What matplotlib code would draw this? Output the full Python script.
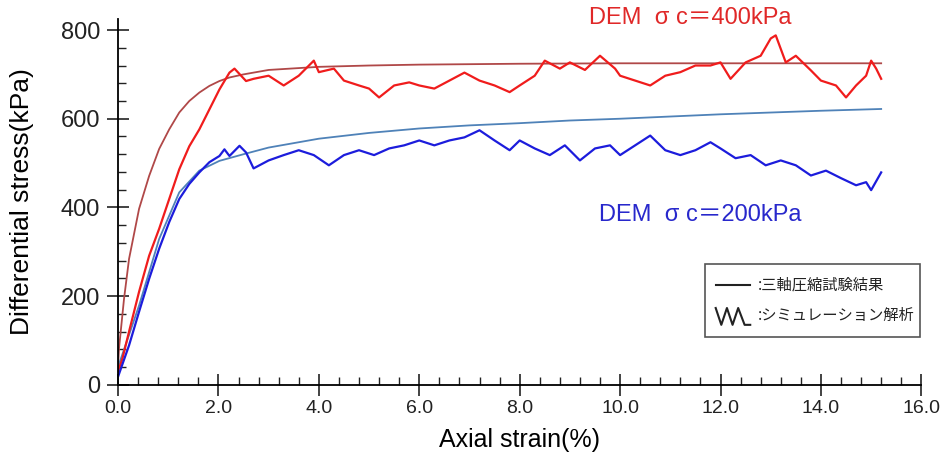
import matplotlib
matplotlib.use('Agg')
import matplotlib.pyplot as plt
from matplotlib.ticker import MultipleLocator, FormatStrFormatter
from matplotlib.patches import Rectangle

# simulation (DEM), sigma_c = 400 kPa
sim400_x = [0.0, 0.09, 0.22, 0.42, 0.62, 0.82, 1.02, 1.22, 1.42, 1.62, 1.82, 2.02,
            2.22, 2.32, 2.55, 2.7, 3.0,
            3.3, 3.6, 3.9, 4.0, 4.3, 4.5, 4.8, 5.0, 5.2, 5.5, 5.8, 6.0, 6.3, 6.6, 6.9,
            7.2, 7.5, 7.8, 8.0, 8.3, 8.5, 8.8, 9.0, 9.3, 9.6, 9.9, 10.0, 10.3, 10.6,
            10.9, 11.2, 11.5, 11.8, 12.0, 12.2, 12.5, 12.8, 13.0, 13.1, 13.3, 13.5,
            13.8, 14.0, 14.3, 14.5, 14.7, 14.9, 15.0, 15.1, 15.2]
sim400_y = [30, 60, 120, 210, 291, 352, 419, 486, 538, 576, 621, 666,
            704, 713, 685, 690, 697,
            675, 697, 731, 705, 713, 686, 675, 668, 648, 675, 682, 675, 668, 686, 704,
            686, 675, 660, 675, 697, 731, 713, 727, 710, 742, 713, 697, 686, 675,
            697, 705, 720, 720, 727, 690, 727, 742, 781, 788, 727, 742,
            709, 686, 675, 648, 675, 697, 731, 713, 690]

# simulation (DEM), sigma_c = 200 kPa
sim200_x = [0.0, 0.22, 0.42, 0.62, 0.82, 1.02, 1.22, 1.42, 1.62, 1.82, 2.02, 2.12,
            2.22, 2.42, 2.55, 2.7, 3.0, 3.3, 3.6,
            3.9, 4.2, 4.5, 4.8, 5.1, 5.4, 5.7, 6.0, 6.3, 6.6, 6.9, 7.2, 7.5, 7.8, 8.0,
            8.3, 8.6, 8.9, 9.2, 9.5, 9.8, 10.0, 10.3, 10.6, 10.9, 11.2, 11.5, 11.8,
            12.0, 12.3, 12.6, 12.9, 13.2, 13.5, 13.8, 14.1, 14.4, 14.7, 14.9, 15.0, 15.2]
sim200_y = [18, 89, 165, 239, 307, 367, 419, 453, 479, 502, 516, 531,
            516, 539, 524, 488, 506, 518, 529,
            518, 495, 518, 529, 518, 533, 540, 551, 540, 551, 558, 574, 551, 529, 551,
            533, 518, 540, 506, 533, 540, 518, 540, 562, 529, 518, 529, 547,
            533, 511, 518, 495, 506, 495, 472, 483, 466, 450, 457, 439, 479]

# triaxial compression test results
test400_x = [0.0, 0.02, 0.12, 0.22, 0.42, 0.62, 0.82, 1.02, 1.22, 1.42, 1.62, 1.82,
             2.02, 2.22, 2.5, 3.0, 4.0, 5.0, 6.0, 8.0, 10.0, 12.0, 15.2]
test400_y = [40, 82, 194, 284, 397, 471, 532, 576, 614, 640, 659, 674,
             685, 693, 700, 710, 717, 720, 722, 724, 725, 725, 725]

test200_x = [0.0, 0.42, 0.82, 1.22, 1.62, 2.02, 2.5, 3.0, 4.0, 5.0,
             6.0, 7.0, 8.0, 9.0, 10.0, 11.0, 12.0, 13.0, 14.0, 15.2]
test200_y = [40, 179, 329, 434, 483, 505, 520, 535, 555, 568,
             578, 585, 590, 596, 600, 605, 610, 614, 618, 622]

fig = plt.figure(figsize=(9.44, 4.62), dpi=100)
ax = fig.add_axes([0.125, 0.167, 0.851, 0.792])

ax.plot(test400_x, test400_y, color='#b04848', lw=1.3)
ax.plot(test200_x, test200_y, color='#4f82b8', lw=1.3)
ax.plot(sim400_x, sim400_y, color='#f01c1c', lw=1.6)
ax.plot(sim200_x, sim200_y, color='#1c1cdc', lw=1.6)

ax.set_xlim(0, 16.0)
ax.set_ylim(0, 825)
ax.spines['top'].set_visible(False)
ax.spines['right'].set_visible(False)
ax.spines['left'].set_linewidth(1.3)
ax.spines['bottom'].set_linewidth(1.3)

ax.xaxis.set_major_locator(MultipleLocator(2))
ax.xaxis.set_minor_locator(MultipleLocator(0.4))
ax.xaxis.set_major_formatter(FormatStrFormatter('%.1f'))
ax.yaxis.set_major_locator(MultipleLocator(200))
ax.yaxis.set_minor_locator(MultipleLocator(40))
ax.tick_params(which='major', direction='inout', length=16, width=1.2,
               colors='#222222')
ax.tick_params(which='minor', direction='in', length=6, width=1.0, colors='#222222')
ax.tick_params(axis='y', labelsize=17, pad=5)
ax.tick_params(axis='x', labelsize=14, pad=3)
for lab in ax.get_xticklabels() + ax.get_yticklabels():
    lab.set_family('Liberation Sans')

ax.set_xlabel('Axial strain(%)', fontsize=18, family='Liberation Sans', labelpad=8)
ax.set_ylabel('Differential stress(kPa)', fontsize=19, family='Liberation Sans')
ax.yaxis.set_label_coords(-0.104, 0.5)

fam = ['Liberation Sans', 'Noto Sans CJK JP']
ax.text(9.39, 826, 'DEM  σ c＝400kPa', color='#e02828', fontsize=17, family=fam,
        ha='left', va='center')
ax.text(9.58, 382, 'DEM  σ c＝200kPa', color='#2828cc', fontsize=17, family=fam,
        ha='left', va='center')

# legend box
ax.add_patch(Rectangle((0.731, 0.131), 0.267, 0.200, transform=ax.transAxes,
                       fill=False, ec='#555555', lw=1.2))
ax.plot([0.744, 0.787], [0.273, 0.273], transform=ax.transAxes, color='#222222', lw=1.5)
ax.plot([0.744, 0.751, 0.758, 0.765, 0.772, 0.780, 0.787],
        [0.210, 0.164, 0.210, 0.164, 0.210, 0.164, 0.164],
        transform=ax.transAxes, color='#222222', lw=1.5)
ax.text(0.797, 0.273, ':三軸圧縮試験結果', transform=ax.transAxes, fontsize=11,
        family=['Noto Sans CJK JP'], va='center', color='#222222')
ax.text(0.797, 0.189, ':シミュレーション解析', transform=ax.transAxes, fontsize=11,
        family=['Noto Sans CJK JP'], va='center', color='#222222')

fig.savefig('out.png', dpi=100)
